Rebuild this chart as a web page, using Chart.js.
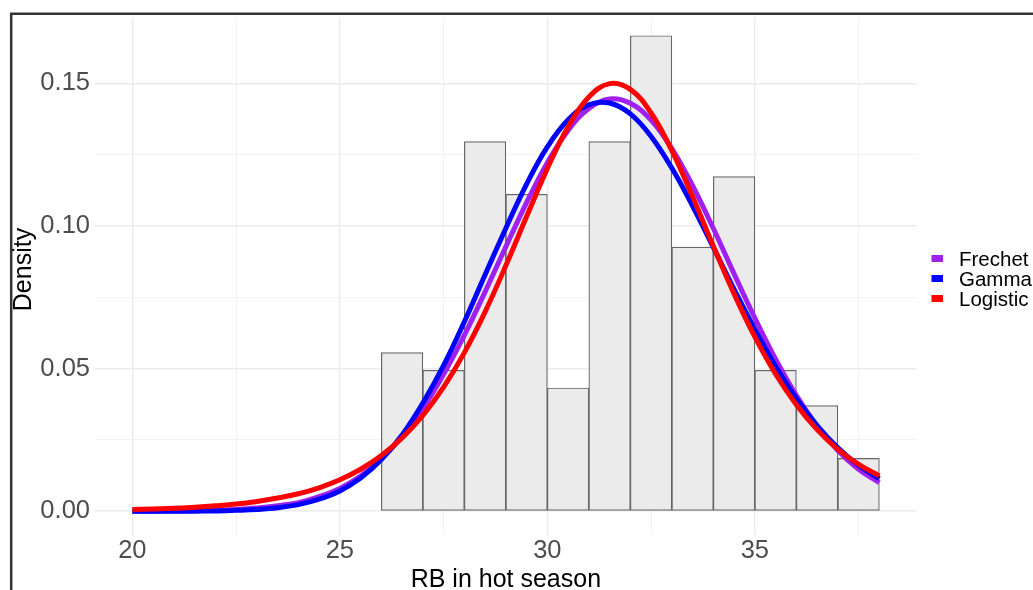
<!DOCTYPE html>
<html>
<head>
<meta charset="utf-8">
<script src="https://cdn.jsdelivr.net/npm/chart.js@4.4.1/dist/chart.umd.min.js"></script>
<style>
  html, body { margin: 0; padding: 0; background: #ffffff; }
  canvas { display: block; }
</style>
</head>
<body>
<canvas id="chart" width="1033" height="590"></canvas>
<script>
// Histogram of RB in the hot season (bin width 1) and three fitted densities
const binCenters = [26.5, 27.5, 28.5, 29.5, 30.5, 31.5, 32.5, 33.5, 34.5, 35.5, 36.5, 37.5];
const binDensity = [0.0556, 0.0494, 0.1296, 0.1111, 0.0432, 0.1296, 0.1667, 0.0926, 0.1173, 0.0494, 0.0370, 0.0185];

const curveX = [20, 20.5, 21, 21.5, 22, 22.5, 23, 23.5, 24, 24.5, 25, 25.5, 26, 26.5, 27, 27.5,
                28, 28.5, 29, 29.5, 30, 30.5, 31, 31.5, 32, 32.5, 33, 33.5, 34, 34.5, 35, 35.5,
                36, 36.5, 37, 37.5, 38];

const frechetY = [0.0000, 0.0000, 0.0001, 0.0002, 0.0003, 0.0006, 0.0011, 0.0019, 0.0030, 0.0051,
                  0.0080, 0.0123, 0.0184, 0.0262, 0.0360, 0.0480, 0.0617, 0.0769, 0.0927, 0.1082,
                  0.1222, 0.1335, 0.1412, 0.1445, 0.1430, 0.1371, 0.1271, 0.1141, 0.0991, 0.0832,
                  0.0677, 0.0533, 0.0406, 0.0299, 0.0213, 0.0147, 0.0100];

const gammaY   = [0.0000, 0.0000, 0.0000, 0.0000, 0.0001, 0.0003, 0.0006, 0.0012, 0.0023, 0.0042,
                  0.0071, 0.0116, 0.0181, 0.0267, 0.0379, 0.0511, 0.0664, 0.0829, 0.0992, 0.1147,
                  0.1277, 0.1372, 0.1425, 0.1431, 0.1393, 0.1314, 0.1203, 0.1070, 0.0925, 0.0778,
                  0.0637, 0.0508, 0.0395, 0.0300, 0.0222, 0.0161, 0.0114];

const logisticY = [0.0006, 0.0008, 0.0010, 0.0014, 0.0019, 0.0025, 0.0034, 0.0046, 0.0061, 0.0082,
                   0.0110, 0.0147, 0.0195, 0.0257, 0.0336, 0.0435, 0.0556, 0.0699, 0.0861, 0.1033,
                   0.1201, 0.1348, 0.1452, 0.1499, 0.1479, 0.1396, 0.1264, 0.1102, 0.0929, 0.0762,
                   0.0611, 0.0481, 0.0373, 0.0286, 0.0217, 0.0164, 0.0124];

const seriesNames = ['Frechet', 'Gamma', 'Logistic'];
const seriesColors = ['#A020F0', '#0000FF', '#FF0000'];

const xTickLabels = [20, 25, 30, 35];
const yTickLabels = [0.00, 0.05, 0.10, 0.15];

const xTitle = 'RB in hot season';
const yTitle = 'Density';

const FONT = "'Liberation Sans', Arial, Helvetica, sans-serif";

const toPoints = (xs, ys) => xs.map((x, i) => ({ x: x, y: ys[i] }));
const isLabelled = (v, list) => list.some(t => Math.abs(t - v) < 1e-6);

const curveSets = [frechetY, gammaY, logisticY].map((ys, i) => ({
  type: 'line',
  label: seriesNames[i],
  data: toPoints(curveX, ys),
  borderColor: seriesColors[i],
  backgroundColor: seriesColors[i],
  borderWidth: 5,
  pointRadius: 0,
  pointHoverRadius: 0,
  fill: false,
  tension: 0.4,
  order: 3 - i
}));

const histogramSet = {
  type: 'bar',
  label: 'histogram',
  data: toPoints(binCenters, binDensity),
  backgroundColor: '#EBEBEB',
  borderColor: '#666666',
  borderWidth: 1.2,
  borderSkipped: false,
  barPercentage: 1.0,
  categoryPercentage: 1.0,
  grouped: false,
  order: 4
};

// Frame, axis titles and legend drawn on top of the plot
const decorations = {
  id: 'decorations',
  afterDraw(chart) {
    const ctx = chart.ctx;
    const area = chart.chartArea;
    ctx.save();

    // axis titles
    ctx.fillStyle = '#000000';
    ctx.font = `25px ${FONT}`;
    ctx.textAlign = 'center';
    ctx.textBaseline = 'alphabetic';
    ctx.fillText(xTitle, (area.left + area.right) / 2, 586.5);

    ctx.save();
    ctx.translate(31, 269.5);
    ctx.rotate(-Math.PI / 2);
    ctx.fillText(yTitle, 0, 0);
    ctx.restore();

    // legend
    const lines = chart.data.datasets.filter(d => d.type === 'line');
    ctx.font = `20.5px ${FONT}`;
    ctx.textAlign = 'left';
    lines.forEach((d, i) => {
      const cy = 258.5 + i * 20;
      ctx.fillStyle = d.borderColor;
      ctx.fillRect(931.5, cy - 3.5, 11.5, 7);
      ctx.fillStyle = '#000000';
      ctx.fillText(d.label, 959, cy + 7.6);
    });

    // outer frame (top and left edges)
    ctx.strokeStyle = '#333333';
    ctx.lineWidth = 2.5;
    ctx.beginPath();
    ctx.moveTo(1033, 13.7);
    ctx.lineTo(11.2, 13.7);
    ctx.lineTo(11.2, 590);
    ctx.stroke();

    ctx.restore();
  }
};

const gridColor = (list) => (c) =>
  (c.tick && isLabelled(c.tick.value, list)) ? '#EBEBEB' : '#F2F2F2';
const gridWidth = (list) => (c) =>
  (c.tick && isLabelled(c.tick.value, list)) ? 1.4 : 1.1;

new Chart(document.getElementById('chart'), {
  type: 'line',
  data: { datasets: [histogramSet, ...curveSets] },
  options: {
    responsive: false,
    animation: false,
    devicePixelRatio: 1,
    layout: { padding: { left: 0, right: 116.3, top: 14, bottom: 0 } },
    plugins: {
      legend: { display: false },
      tooltip: { enabled: false },
      title: { display: false }
    },
    scales: {
      x: {
        type: 'linear',
        min: 19.1,
        max: 38.9,
        offset: false,
        afterFit(scale) { scale.height = 55; },
        border: { display: false },
        grid: { offset: false, color: gridColor(xTickLabels), lineWidth: gridWidth(xTickLabels), drawTicks: false },
        ticks: {
          stepSize: 2.5,
          includeBounds: false,
          autoSkip: false,
          maxRotation: 0,
          padding: 3,
          color: '#4D4D4D',
          font: { family: FONT, size: 25.5, lineHeight: 1 },
          callback: (v) => isLabelled(v, xTickLabels) ? String(Math.round(v)) : ''
        }
      },
      y: {
        type: 'linear',
        min: -0.00835,
        max: 0.1730,
        afterFit(scale) { scale.width = 95; },
        border: { display: false },
        grid: { color: gridColor(yTickLabels), lineWidth: gridWidth(yTickLabels), drawTicks: false },
        ticks: {
          stepSize: 0.025,
          includeBounds: false,
          autoSkip: false,
          padding: 5,
          color: '#4D4D4D',
          font: { family: FONT, size: 25.5, lineHeight: 1 },
          callback: (v) => isLabelled(v, yTickLabels) ? v.toFixed(2) : ''
        }
      }
    }
  },
  plugins: [decorations]
});
</script>
</body>
</html>
